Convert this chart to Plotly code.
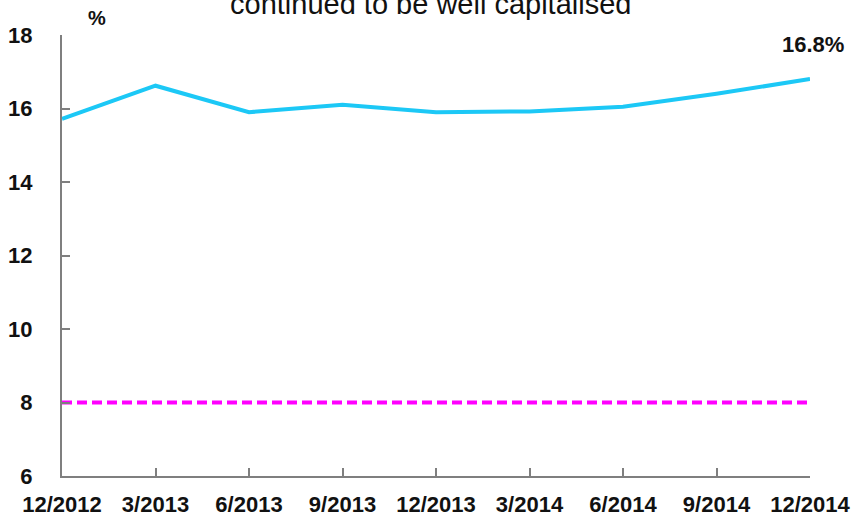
import plotly.graph_objects as go

# Quarter-end dates and total capital ratio (%)
quarters = ["12/2012", "3/2013", "6/2013", "9/2013", "12/2013",
            "3/2014", "6/2014", "9/2014", "12/2014"]
capital_ratio = [15.72, 16.62, 15.9, 16.1, 15.9, 15.92, 16.05, 16.4, 16.8]
minimum_ratio = [8, 8, 8, 8, 8, 8, 8, 8, 8]
y_ticks = [6, 8, 10, 12, 14, 16, 18]

xpos = list(range(len(quarters)))
label_font = dict(family="Liberation Sans, Arial", size=22, color="#111111",
                  weight="bold")
axis_grey = "#7f7f7f"

fig = go.Figure()
fig.add_trace(go.Scatter(
    x=xpos, y=minimum_ratio, mode="lines",
    line=dict(color="#FF00FF", width=4, dash="10px,5px"),
    hoverinfo="skip", showlegend=False,
))
fig.add_trace(go.Scatter(
    x=xpos, y=capital_ratio, mode="lines",
    line=dict(color="#1CC8F6", width=4),
    showlegend=False,
))

fig.update_layout(
    width=856, height=522,
    margin=dict(l=62, r=46, t=35, b=46),
    plot_bgcolor="white", paper_bgcolor="white",
    xaxis=dict(
        range=[0, len(quarters) - 1],
        tickmode="array", tickvals=xpos, ticktext=quarters,
        showgrid=False, zeroline=False, automargin=False,
        showline=True, linecolor=axis_grey, linewidth=2,
        ticks="inside", ticklen=8, tickcolor=axis_grey, tickwidth=1.5,
        ticklabelstandoff=8,
        tickfont=label_font,
    ),
    yaxis=dict(
        range=[6, 18],
        tickmode="array", tickvals=y_ticks,
        showgrid=False, zeroline=False, automargin=False,
        showline=True, linecolor=axis_grey, linewidth=2,
        ticks="inside", ticklen=8, tickcolor=axis_grey, tickwidth=1.5,
        ticklabelstandoff=23,
        tickfont=label_font,
    ),
    annotations=[
        dict(text="continued to be well capitalised", xref="paper", yref="paper",
             x=0.493, y=1.0, yshift=13, xanchor="center", yanchor="bottom",
             showarrow=False,
             font=dict(family="Liberation Sans, Arial", size=29, color="#111111")),
        dict(text="%", xref="paper", yref="paper", x=0.047, y=1.0, yshift=4,
             xanchor="center", yanchor="bottom", showarrow=False,
             font=dict(label_font, size=20)),
        dict(text=f"{capital_ratio[-1]:.1f}%", x=xpos[-1], y=capital_ratio[-1],
             xref="x", yref="y", xanchor="center", yanchor="bottom", yshift=20,
             xshift=3, showarrow=False,
             font=dict(label_font, size=22)),
    ],
)

fig.write_html("out.html")
